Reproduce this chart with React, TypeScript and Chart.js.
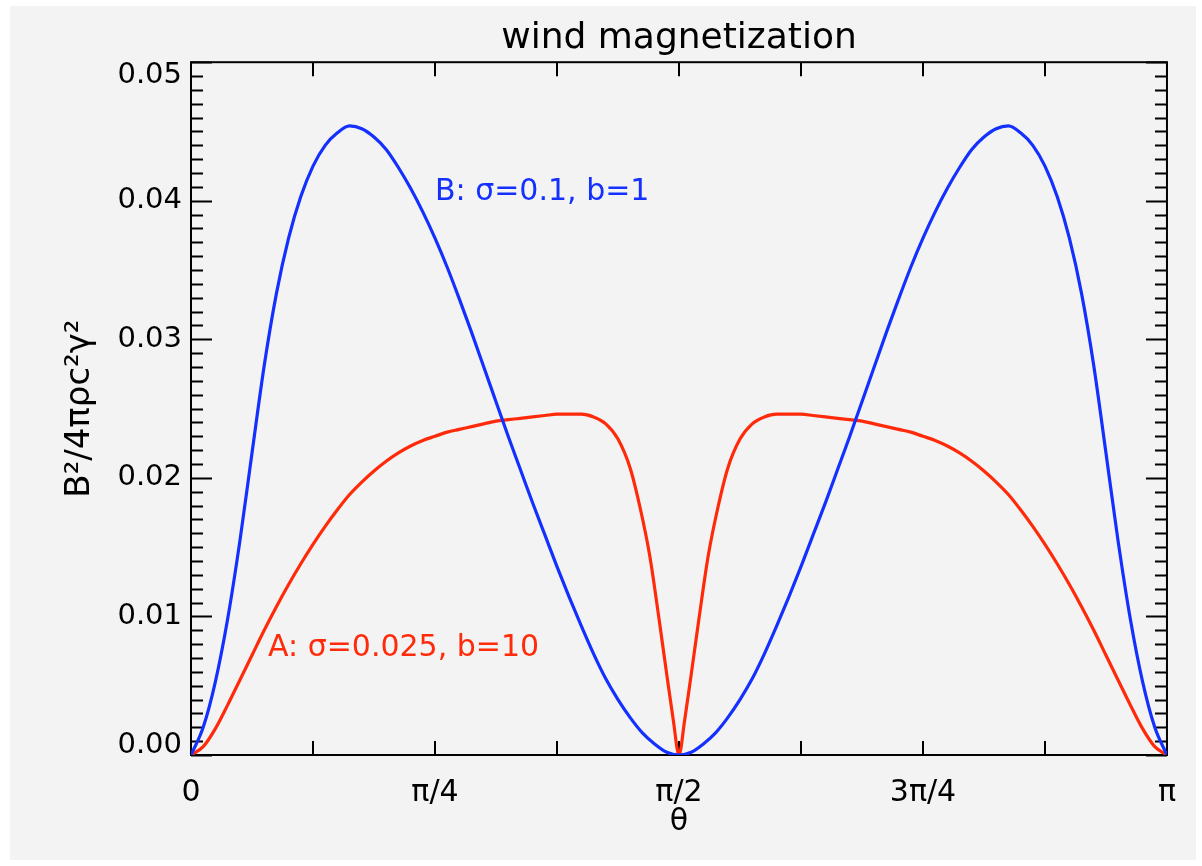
import React, { useEffect, useRef } from 'react';
import { Chart, registerables } from 'chart.js';

Chart.register(...registerables);

// theta in units of pi
const thetaB = [
  0, 0.0125, 0.025, 0.0375, 0.05, 0.0625, 0.075, 0.0875, 0.1, 0.1125,
  0.125, 0.1375, 0.15, 0.1625, 0.175, 0.1875, 0.2, 0.2125, 0.225, 0.2375,
  0.25, 0.2625, 0.275, 0.2875, 0.3, 0.3125, 0.325, 0.3375, 0.35, 0.3625,
  0.375, 0.3875, 0.4, 0.4125, 0.425, 0.4375, 0.45, 0.4625, 0.475, 0.4875,
  0.5,
  0.5125, 0.525, 0.5375, 0.55, 0.5625, 0.575, 0.5875, 0.6, 0.6125, 0.625,
  0.6375, 0.65, 0.6625, 0.675, 0.6875, 0.7, 0.7125, 0.725, 0.7375, 0.75,
  0.7625, 0.775, 0.7875, 0.8, 0.8125, 0.825, 0.8375, 0.85, 0.8625, 0.875,
  0.8875, 0.9, 0.9125, 0.925, 0.9375, 0.95, 0.9625, 0.975, 0.9875, 1,
];

const seriesB = [
  0, 0.0020, 0.0053, 0.0098, 0.0154, 0.0218, 0.0281, 0.0333, 0.0373, 0.0403,
  0.0425, 0.0440, 0.0449, 0.0454, 0.0452, 0.0446, 0.0437, 0.0424, 0.0409, 0.0392,
  0.0373, 0.0352, 0.0329, 0.0305, 0.0280, 0.0255, 0.0230, 0.0206, 0.0182, 0.0159,
  0.0136, 0.0114, 0.0093, 0.0073, 0.0055, 0.0040, 0.0027, 0.0016, 0.0008, 0.0002,
  0,
  0.0002, 0.0008, 0.0016, 0.0027, 0.0040, 0.0055, 0.0073, 0.0093, 0.0114, 0.0136,
  0.0159, 0.0182, 0.0206, 0.0230, 0.0255, 0.0280, 0.0305, 0.0329, 0.0352, 0.0373,
  0.0392, 0.0409, 0.0424, 0.0437, 0.0446, 0.0452, 0.0454, 0.0449, 0.0440, 0.0425,
  0.0403, 0.0373, 0.0333, 0.0281, 0.0218, 0.0154, 0.0098, 0.0053, 0.0020, 0,
];

const thetaA = [
  0, 0.0125, 0.025, 0.0375, 0.05, 0.0625, 0.075, 0.0875, 0.1, 0.1125,
  0.125, 0.1375, 0.15, 0.1625, 0.175, 0.1875, 0.2, 0.2125, 0.225, 0.2375,
  0.25, 0.2625, 0.275, 0.2875, 0.3, 0.3125, 0.325, 0.3375, 0.35, 0.3625,
  0.375, 0.3875, 0.4, 0.4125, 0.425, 0.4375, 0.45, 0.46, 0.47, 0.48,
  0.4875, 0.4942, 0.5,
  0.5058, 0.5125, 0.52, 0.53, 0.54, 0.55, 0.5625, 0.575, 0.5875, 0.6,
  0.6125, 0.625, 0.6375, 0.65, 0.6625, 0.675, 0.6875, 0.7, 0.7125, 0.725,
  0.7375, 0.75, 0.7625, 0.775, 0.7875, 0.8, 0.8125, 0.825, 0.8375, 0.85,
  0.8625, 0.875, 0.8875, 0.9, 0.9125, 0.925, 0.9375, 0.95, 0.9625, 0.975,
  0.9875, 1,
];

const seriesA = [
  0, 0.0006, 0.0019, 0.0036, 0.0054, 0.0072, 0.0090, 0.0107, 0.0123, 0.0138,
  0.0152, 0.0165, 0.0177, 0.0188, 0.0197, 0.0205, 0.0212, 0.0218, 0.0223, 0.0227,
  0.0230, 0.0233, 0.0235, 0.0237, 0.0239, 0.0241, 0.0242, 0.0243, 0.0244, 0.0245,
  0.0246, 0.0246, 0.0246, 0.0244, 0.0239, 0.0228, 0.0207, 0.0179, 0.0144, 0.0096,
  0.0058, 0.0025, 0,
  0.0025, 0.0058, 0.0096, 0.0144, 0.0179, 0.0207, 0.0228, 0.0239, 0.0244, 0.0246,
  0.0246, 0.0246, 0.0245, 0.0244, 0.0243, 0.0242, 0.0241, 0.0239, 0.0237, 0.0235,
  0.0233, 0.0230, 0.0227, 0.0223, 0.0218, 0.0212, 0.0205, 0.0197, 0.0188, 0.0177,
  0.0165, 0.0152, 0.0138, 0.0123, 0.0107, 0.0090, 0.0072, 0.0054, 0.0036, 0.0019,
  0.0006, 0,
];

const xTickValues = [0, 0.125, 0.25, 0.375, 0.5, 0.625, 0.75, 0.875, 1];
const xTickLabels = ['0', '', 'π/4', '', 'π/2', '', '3π/4', '', 'π'];
const yTickValues = [0, 0.01, 0.02, 0.03, 0.04, 0.05];
const yTickLabels = ['0.00', '0.01', '0.02', '0.03', '0.04', '0.05'];
const yMinorStep = 0.001;

const TITLE = 'wind magnetization';
const X_TITLE = 'θ';
const Y_TITLE = 'B²/4πρc²γ²';
const LABEL_B = 'B: σ=0.1, b=1';
const LABEL_A = 'A: σ=0.025, b=10';

const BLUE = '#1430ff';
const RED = '#ff2a0a';
const BG = '#f3f3f3';
const FONT = "'DejaVu Sans', sans-serif";

const W = 1186;
const H = 854;

const framePlugin = {
  id: 'idlFrame',
  beforeDatasetsDraw(chart: any) {
    const { ctx, chartArea: a, scales } = chart;
    const x = scales.x;
    const y = scales.y;
    ctx.save();
    ctx.strokeStyle = '#000';
    ctx.lineWidth = 2;
    ctx.strokeRect(a.left, a.top, a.right - a.left, a.bottom - a.top);
    ctx.beginPath();
    for (const v of xTickValues) {
      const px = Math.round(x.getPixelForValue(v));
      ctx.moveTo(px, a.bottom);
      ctx.lineTo(px, a.bottom - 14);
      ctx.moveTo(px, a.top);
      ctx.lineTo(px, a.top + 14);
    }
    const n = Math.round((y.max - y.min) / yMinorStep);
    for (let k = 0; k <= n; k++) {
      const v = y.min + k * yMinorStep;
      const py = Math.round(y.getPixelForValue(v)) + 0.5;
      const len = k % 10 === 0 ? 21 : 12;
      ctx.moveTo(a.left, py);
      ctx.lineTo(a.left + len, py);
      ctx.moveTo(a.right, py);
      ctx.lineTo(a.right - len, py);
    }
    ctx.stroke();
    ctx.restore();
  },
};

const labelPlugin = {
  id: 'curveLabels',
  afterDatasetsDraw(chart: any) {
    const { ctx, scales } = chart;
    const x = scales.x;
    const y = scales.y;
    ctx.save();
    ctx.font = `30px ${FONT}`;
    ctx.textAlign = 'left';
    ctx.textBaseline = 'middle';
    ctx.fillStyle = BLUE;
    ctx.fillText(LABEL_B, x.getPixelForValue(0.25), y.getPixelForValue(0.0406));
    ctx.fillStyle = RED;
    ctx.fillText(LABEL_A, x.getPixelForValue(0.0789), y.getPixelForValue(0.0077));
    ctx.restore();
  },
};

export default function App() {
  const ref = useRef<HTMLCanvasElement | null>(null);

  useEffect(() => {
    if (!ref.current) return;
    const chart = new Chart(ref.current, {
      type: 'line',
      data: {
        datasets: [
          {
            label: 'B',
            data: thetaB.map((t, i) => ({ x: t, y: seriesB[i] })),
            borderColor: BLUE,
            borderWidth: 3.2,
            pointRadius: 0,
            cubicInterpolationMode: 'monotone',
            fill: false,
          },
          {
            label: 'A',
            data: thetaA.map((t, i) => ({ x: t, y: seriesA[i] })),
            borderColor: RED,
            borderWidth: 3.2,
            pointRadius: 0,
            cubicInterpolationMode: 'monotone',
            fill: false,
          },
        ],
      },
      options: {
        responsive: false,
        animation: false,
        devicePixelRatio: 1,
        layout: { padding: 0 },
        plugins: {
          legend: { display: false },
          tooltip: { enabled: false },
          title: {
            display: true,
            fullSize: false,
            text: TITLE,
            color: '#000',
            font: { family: FONT, size: 36, weight: 'normal', lineHeight: 1.2 },
            padding: { top: 11, bottom: 2 },
          },
        },
        scales: {
          x: {
            type: 'linear',
            min: 0,
            max: 1,
            position: 'bottom',
            afterBuildTicks: (s: any) => {
              s.ticks = xTickValues.map((v) => ({ value: v }));
            },
            ticks: {
              autoSkip: false,
              maxRotation: 0,
              minRotation: 0,
              padding: 20,
              color: '#000',
              font: { family: FONT, size: 30 },
              callback: (v: any) => {
                const i = xTickValues.indexOf(Number(v));
                return i >= 0 ? xTickLabels[i] : '';
              },
            },
            grid: { display: false, drawTicks: false },
            border: { display: false },
            title: {
              display: true,
              text: X_TITLE,
              color: '#000',
              font: { family: FONT, size: 30, lineHeight: 1.2 },
              padding: { top: 0, bottom: 20 },
            },
            afterFit: (s: any) => {
              s.height = 105;
            },
          },
          y: {
            type: 'linear',
            min: 0,
            max: 0.05,
            position: 'left',
            afterBuildTicks: (s: any) => {
              s.ticks = yTickValues.map((v) => ({ value: v }));
            },
            ticks: {
              padding: 9,
              color: '#000',
              font: (c: any) => ({
                family: FONT,
                size: 29,
                lineHeight: c.index === yTickValues.length - 1 ? '26px' : c.index === 0 ? '20px' : 1.2,
              }),
              callback: (v: any, i: number) => {
                const s = yTickLabels[i] ?? Number(v).toFixed(2);
                if (i === yTickValues.length - 1) return ['', s];
                if (i === 0) return [s, ''];
                return s;
              },
            },
            grid: { display: false, drawTicks: false },
            border: { display: false },
            title: {
              display: true,
              text: Y_TITLE,
              color: '#000',
              font: { family: FONT, size: 34, lineHeight: 1.2 },
              padding: { top: 49.6, bottom: 0 },
            },
            afterFit: (s: any) => {
              s.width = 181;
            },
          },
          y2: {
            type: 'linear',
            min: 0,
            max: 0.05,
            position: 'right',
            ticks: { display: false },
            grid: { display: false, drawTicks: false },
            border: { display: false },
            afterFit: (s: any) => {
              s.width = 29;
            },
          },
        },
      } as any,
      plugins: [framePlugin, labelPlugin],
    });
    return () => chart.destroy();
  }, []);

  return (
    <div
      style={{
        position: 'absolute',
        left: 10,
        top: 6,
        width: W,
        height: H,
        background: BG,
      }}
    >
      <canvas ref={ref} width={W} height={H} style={{ display: 'block', width: W, height: H }} />
    </div>
  );
}
